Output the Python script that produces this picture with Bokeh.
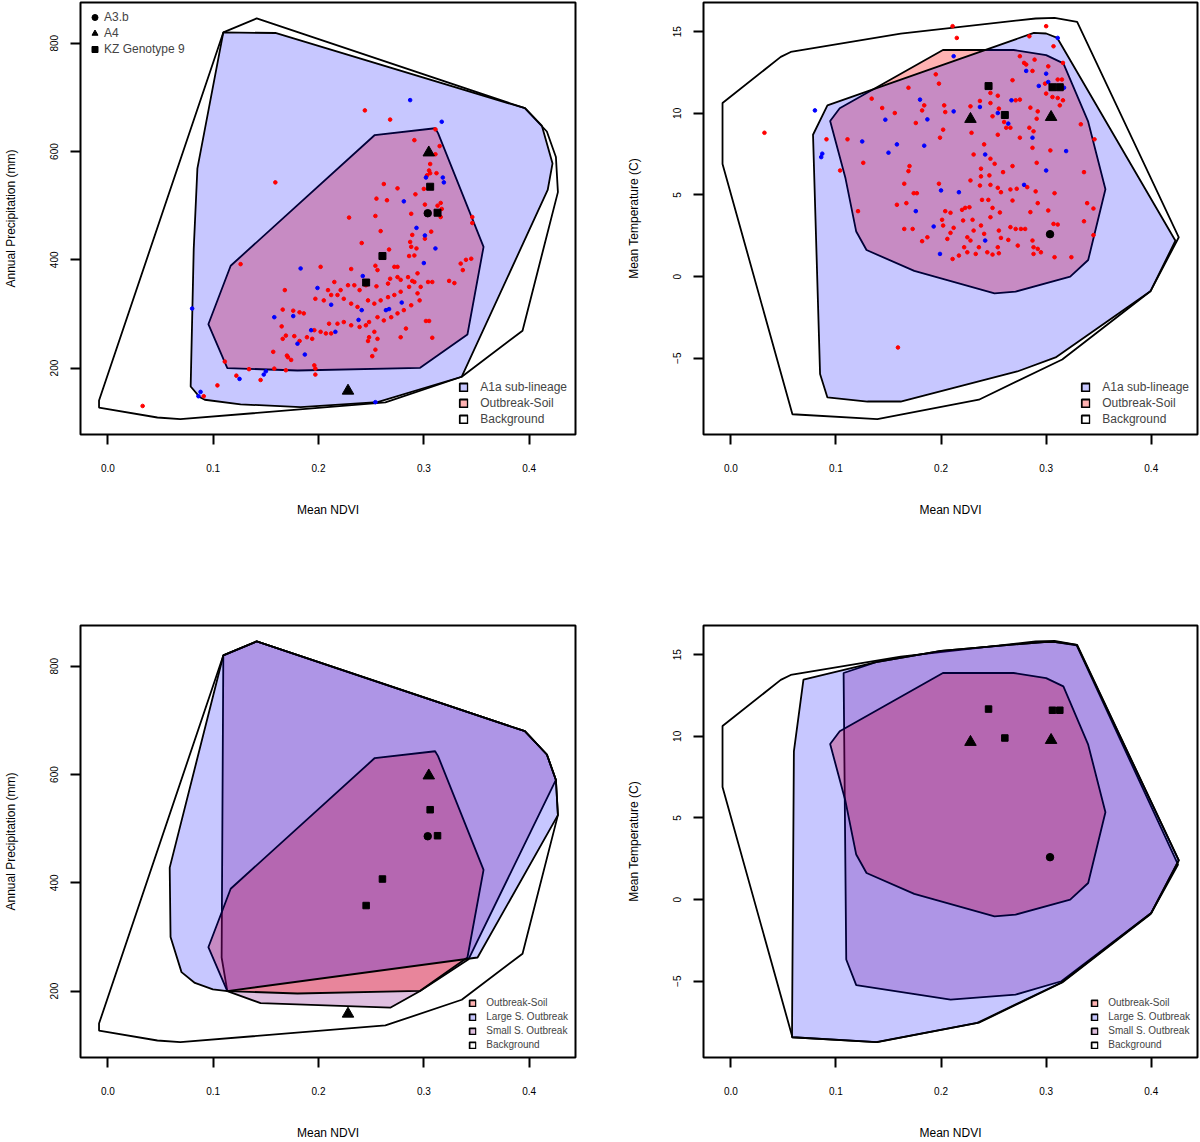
from bokeh.plotting import figure
from bokeh.models import Range1d, FixedTicker, NumeralTickFormatter, Legend, LegendItem
from bokeh.layouts import column, row
from bokeh.embed import file_html
from bokeh.resources import INLINE

FONT = "Liberation Sans"

# ---------------- axes ----------------
NDVI_TICKS = [0.0, 0.1, 0.2, 0.3, 0.4]
PRECIP_TICKS = [200, 400, 600, 800]
TEMP_TICKS = [-5, 0, 5, 10, 15]
NDVI_RANGE = (-0.026, 0.444)
PRECIP_RANGE = (77.3, 875.3)
TEMP_RANGE = (-9.67, 16.79)

# ---------------- hull vertices: precipitation ----------------
BG_P_NDVI = [-0.0084, -0.0084, 0.047, 0.0688, 0.2635, 0.336, 0.3937, 0.4273, 0.4254, 0.4168, 0.3959, 0.1413, 0.1096]
BG_P_MM = [140, 127, 108.7, 105.6, 136.5, 184, 269, 525, 590, 637, 680, 846, 820]

A1A_P_NDVI = [0.1096, 0.159, 0.3961, 0.412, 0.4222, 0.4176, 0.336, 0.256, 0.183, 0.126, 0.092, 0.0874, 0.0786, 0.0815, 0.085]
A1A_P_MM = [820, 819, 680, 648, 578, 529, 184, 137, 128, 133, 141.5, 146, 166, 420, 569]

SOIL_P_NDVI = [0.0954, 0.1166, 0.2534, 0.3107, 0.3135, 0.3567, 0.3414, 0.2965, 0.18, 0.1134]
SOIL_P_MM = [281, 389, 630.5, 643, 634, 424, 262, 200.5, 195.5, 200]

LARGE_P_NDVI = [0.1096, 0.1413, 0.3959, 0.4168, 0.4254, 0.4273, 0.351, 0.1134, 0.0997, 0.0826, 0.0699, 0.0595, 0.0587]
LARGE_P_MM = [820, 846, 680, 637, 590, 525, 262, 200, 203, 215, 235, 300, 428]

SMALL_P_NDVI = [0.1096, 0.1413, 0.3959, 0.4168, 0.4254, 0.3425, 0.2965, 0.2685, 0.145, 0.1134, 0.108]
SMALL_P_MM = [820, 846, 680, 637, 590, 259, 200, 169.5, 177.6, 200, 262]

# ---------------- hull vertices: temperature ----------------
BG_T_NDVI = [-0.0079, 0.0475, 0.057, 0.1616, 0.29, 0.308, 0.3295, 0.4262, 0.3992, 0.3153, 0.236, 0.1394, 0.0586, -0.0079]
BG_T_C = [10.63, 13.46, 13.76, 14.89, 15.81, 15.85, 15.6, 2.41, -0.9, -5.08, -7.54, -8.73, -8.43, 6.9]

A1A_T_NDVI = [0.0919, 0.2883, 0.300, 0.3106, 0.423, 0.3992, 0.309, 0.2725, 0.1616, 0.13, 0.0919, 0.0849, 0.0782]
A1A_T_C = [10.49, 14.93, 14.89, 14.62, 2.2, -0.9, -4.95, -5.81, -7.65, -7.65, -7.4, -5.97, 8.69]

SOIL_T_NDVI = [0.0945, 0.1036, 0.2018, 0.269, 0.3, 0.3164, 0.34, 0.3564, 0.34, 0.3229, 0.2709, 0.2509, 0.1745, 0.1291, 0.1193, 0.1091]
SOIL_T_C = [9.53, 10.31, 13.88, 13.88, 13.57, 13.06, 9.49, 5.35, 1.02, 0.0, -0.92, -1.02, 0.35, 1.63, 2.76, 6.02]

LARGE_T_NDVI = [0.0691, 0.1382, 0.2, 0.298, 0.309, 0.3291, 0.4262, 0.4, 0.3145, 0.2345, 0.1382, 0.0582, 0.06]
LARGE_T_C = [13.47, 14.55, 15.24, 15.78, 15.78, 15.6, 2.41, -0.82, -5.08, -7.55, -8.73, -8.43, 9.08]

SMALL_T_NDVI = [0.1073, 0.1382, 0.2, 0.298, 0.309, 0.3291, 0.4255, 0.4, 0.3145, 0.2709, 0.2091, 0.1193, 0.1098]
SMALL_T_C = [13.88, 14.55, 15.24, 15.78, 15.78, 15.57, 2.14, -0.82, -5.0, -5.82, -6.12, -5.24, -3.67]

# ---------------- genotype sites ----------------
A3B_NDVI = [0.3037]
A3B_MM = [486]
A3B_C = [2.6]
A4_NDVI = [0.228, 0.3047]
A4_MM = [158, 598]
A4_C = [9.65, 9.77]
KZ_NDVI = [0.2452, 0.2607, 0.306, 0.313]
KZ_MM = [358, 407, 535, 487]
KZ_C = [11.67, 9.9, 11.6, 11.6]

# ---------------- sample points: precipitation panel ----------------
RED_P_NDVI = [0.244, 0.268, 0.311, 0.291, 0.315, 0.311, 0.306, 0.305, 0.312, 0.303, 0.306, 0.262, 0.275, 0.300,
              0.292, 0.255, 0.265, 0.301, 0.316, 0.313, 0.317, 0.288, 0.254, 0.229, 0.316, 0.259, 0.307, 0.289,
              0.301, 0.346, 0.346, 0.241, 0.287, 0.288, 0.293, 0.267, 0.159,
              0.286, 0.291, 0.272, 0.275, 0.231, 0.254, 0.256, 0.268, 0.275, 0.278, 0.285, 0.289, 0.294, 0.266,
              0.255, 0.245, 0.239, 0.234, 0.228, 0.221, 0.215, 0.209, 0.202, 0.197, 0.205, 0.212, 0.218, 0.224,
              0.231, 0.237, 0.247, 0.253, 0.259, 0.266, 0.272, 0.278, 0.286, 0.291, 0.297, 0.304, 0.308, 0.324,
              0.329, 0.335, 0.340, 0.345, 0.337, 0.294, 0.296, 0.288, 0.281, 0.275, 0.269, 0.262, 0.256, 0.248,
              0.245, 0.239, 0.231, 0.224, 0.218, 0.210, 0.202, 0.196, 0.189, 0.186, 0.253, 0.248, 0.256, 0.283,
              0.278, 0.308, 0.302, 0.305, 0.247, 0.254, 0.251, 0.196, 0.197, 0.197, 0.207, 0.194, 0.212,
              0.126, 0.168, 0.166, 0.176, 0.182, 0.165, 0.169, 0.166, 0.177, 0.182, 0.157, 0.170, 0.171, 0.174,
              0.111, 0.134, 0.158, 0.169, 0.145, 0.122, 0.104, 0.091, 0.033]
RED_P_MM = [676, 659, 641, 621, 610, 595, 577, 565, 560, 556, 560, 540, 532, 531,
            521, 513, 510, 502, 505, 500, 494, 485, 481, 478, 479, 453, 452, 446,
            439, 479, 468, 431, 433, 424, 421, 419, 543,
            407, 408, 387, 387, 383, 389, 381, 365, 368, 363, 368, 361, 375, 356,
            351, 353, 344, 353, 353, 344, 359, 344, 387, 328, 325, 335, 335, 328,
            319, 313, 325, 319, 325, 331, 335, 341, 350, 359, 350, 359, 359, 361,
            357, 393, 400, 402, 381, 338, 325, 316, 307, 301, 294, 288, 294, 285,
            279, 276, 279, 285, 282, 282, 267, 270, 257, 301, 267, 257, 254, 273,
            257, 256, 287, 287, 250, 234, 222, 205, 199, 188, 264, 254, 264,
            392, 344, 308, 306, 303, 277, 260, 254, 259, 250, 230, 223, 220, 215,
            212, 198, 199, 196, 178, 186, 168, 148, 130]

BLUE_P_NDVI = [0.287, 0.317, 0.302, 0.318, 0.319, 0.281, 0.293, 0.301, 0.311,
               0.080, 0.158, 0.176, 0.180, 0.125, 0.148, 0.150, 0.088, 0.086,
               0.199, 0.242, 0.212, 0.216, 0.193, 0.187, 0.238, 0.241, 0.264, 0.267, 0.279, 0.300, 0.254, 0.183]
BLUE_P_MM = [695, 655, 552, 552, 543, 508, 459, 445, 421,
             310, 294, 296, 245, 180, 188, 194, 156, 148,
             348, 370, 317, 267, 270, 225, 289, 307, 307, 309, 321, 394, 137, 384]

# ---------------- sample points: temperature panel ----------------
RED_T_NDVI = [0.032, 0.091, 0.111, 0.134, 0.144, 0.156, 0.104, 0.126, 0.121, 0.158, 0.159,
              0.211, 0.215, 0.300, 0.284, 0.307, 0.316, 0.275, 0.279, 0.281, 0.289, 0.287, 0.302, 0.268, 0.195,
              0.198, 0.169, 0.184, 0.182, 0.203, 0.204, 0.176, 0.228, 0.237, 0.247, 0.254, 0.247, 0.249, 0.255,
              0.271, 0.275, 0.285, 0.292, 0.291, 0.260, 0.262, 0.266, 0.284, 0.288, 0.254, 0.275, 0.229, 0.202,
              0.199, 0.241, 0.231, 0.287, 0.304, 0.333, 0.346, 0.291, 0.247, 0.251, 0.238, 0.246, 0.268, 0.259,
              0.170, 0.169, 0.165, 0.198, 0.228, 0.238, 0.237, 0.247, 0.254, 0.257, 0.266, 0.272, 0.282, 0.290,
              0.308, 0.336, 0.167, 0.174, 0.177, 0.204, 0.209, 0.220, 0.223, 0.227, 0.239, 0.245, 0.249, 0.256,
              0.268, 0.285, 0.292, 0.302, 0.307, 0.311, 0.336, 0.345, 0.339, 0.345, 0.165, 0.173, 0.201, 0.202,
              0.212, 0.221, 0.230, 0.238, 0.247, 0.255, 0.266, 0.271, 0.276, 0.280, 0.287, 0.292, 0.182, 0.187,
              0.206, 0.209, 0.225, 0.228, 0.231, 0.241, 0.257, 0.264, 0.273, 0.288, 0.254, 0.236, 0.222, 0.300,
              0.306, 0.311, 0.316, 0.313, 0.311, 0.315, 0.299,
              0.211, 0.217, 0.225, 0.233, 0.244, 0.249, 0.255, 0.288, 0.295, 0.308, 0.324]
RED_T_C = [8.81, 8.41, 8.41, 10.9, 10.33, 10.02, 6.5, 6.97, 4.01, 4.4, -4.34,
           15.34, 14.62, 15.34, 14.72, 14.11, 13.09, 13.5, 13.09, 12.99, 13.29, 12.6, 12.88, 12.03, 12.39,
           11.82, 11.57, 10.49, 10.18, 10.49, 10.08, 9.41, 10.43, 10.76, 11.25, 11.08, 10.63, 9.82, 10.29,
           10.8, 10.84, 10.35, 10.12, 9.67, 9.47, 9.12, 9.12, 9.12, 8.9, 8.69, 8.51, 8.81, 9.0,
           8.51, 8.1, 7.48, 7.89, 7.73, 9.33, 8.41, 6.97, 7.22, 6.91, 6.61, 6.2, 6.77, 6.4,
           6.77, 6.46, 5.69, 5.69, 5.89, 6.14, 5.58, 5.62, 5.44, 5.17, 5.34, 5.38, 5.48, 5.22,
           5.11, 6.4, 4.5, 5.11, 5.11, 4.01, 3.91, 4.09, 4.21, 4.25, 4.7, 4.7, 4.21, 3.93,
           4.66, 3.95, 4.5, 4.05, 3.23, 3.19, 3.39, 4.17, 4.5, 2.54, 2.92, 2.92, 3.48, 3.13,
           2.99, 3.44, 3.48, 3.13, 3.64, 2.82, 3.03, 2.92, 2.92, 2.92, 2.21, 1.7, 2.17, 2.41,
           2.31, 2.68, 2.41, 2.21, 2.82, 2.62, 2.37, 2.25, 1.9, 1.8, 1.8, 1.8, 1.8, 11.21,
           11.0, 10.94, 10.8, 10.49, 12.07, 12.07, 11.82,
           1.08, 1.29, 1.49, 1.39, 1.49, 1.35, 1.43, 1.39, 1.49, 1.19, 1.19]

BLUE_T_NDVI = [0.080, 0.086, 0.087, 0.125, 0.147, 0.158, 0.150,
               0.311, 0.212, 0.281, 0.300, 0.302, 0.293, 0.317, 0.180, 0.237, 0.212, 0.187, 0.254, 0.264,
               0.267, 0.287, 0.184, 0.242, 0.319, 0.300, 0.279, 0.200, 0.217, 0.176, 0.193, 0.242, 0.199]
BLUE_T_C = [10.18, 7.32, 7.53, 8.28, 9.61, 8.1, 7.59,
            14.62, 13.5, 12.6, 12.43, 11.92, 11.68, 11.57, 10.84, 10.39, 10.12, 9.63, 10.02, 9.37,
            10.8, 8.51, 8.02, 7.48, 7.69, 6.5, 5.62, 5.28, 5.17, 4.01, 3.07, 2.21, 1.39]

# ---------------- colours ----------------
BLUE = "#0000FF"
RED = "#FF0000"
PURPLE = "#800080"


def make_fig(ylabel, yrange, yticks, frame_w, left_border, right_border, top_border, bottom_border):
    p = figure(frame_width=frame_w, frame_height=432,
               x_range=Range1d(*NDVI_RANGE), y_range=Range1d(*yrange),
               output_backend="svg", toolbar_location=None,
               min_border_left=left_border, min_border_right=right_border,
               min_border_top=top_border, min_border_bottom=bottom_border,
               background_fill_color="white", border_fill_color="white")
    p.grid.visible = False
    p.outline_line_color = "black"
    p.outline_line_width = 2
    for ax in (p.xaxis[0], p.yaxis[0]):
        ax.axis_line_color = None
        ax.major_tick_out = 10
        ax.major_tick_in = 0
        ax.minor_tick_out = 0
        ax.minor_tick_in = 0
        ax.major_tick_line_width = 2
        ax.major_label_text_font = FONT
        ax.major_label_text_font_size = "10px"
        ax.major_label_text_color = "black"
        ax.axis_label_text_font = FONT
        ax.axis_label_text_font_size = "12px"
        ax.axis_label_text_font_style = "normal"
        ax.axis_label_text_color = "black"
    p.xaxis.ticker = FixedTicker(ticks=NDVI_TICKS)
    p.xaxis.formatter = NumeralTickFormatter(format="0.0")
    p.xaxis.axis_label = "Mean NDVI"
    p.xaxis.major_label_standoff = 19
    p.xaxis.axis_label_standoff = 28
    p.yaxis.ticker = FixedTicker(ticks=yticks)
    p.yaxis.major_label_orientation = "vertical"
    p.yaxis.major_label_standoff = 12
    p.yaxis.axis_label = ylabel
    p.yaxis.axis_label_standoff = 30
    return p


def hull(p, xs, ys, color, alpha):
    return p.patch(xs, ys, fill_color=color, fill_alpha=alpha,
                   line_color="black", line_width=1.8)


def sites(p, ys_a3b, ys_a4, ys_kz, big):
    c = p.scatter(A3B_NDVI, ys_a3b, marker="circle", size=7.5, color="black")
    t = p.scatter(A4_NDVI, ys_a4, marker="triangle", size=11.5, color="black")
    s = p.scatter(KZ_NDVI, ys_kz, marker="square", size=7 if big else 6.5, color="black")
    return c, t, s


def hull_legend(p, items, font_size, gw, gh, spacing, standoff, margin):
    leg = Legend(items=items, location="bottom_right",
                 border_line_color=None, background_fill_alpha=0,
                 label_text_font=FONT, label_text_font_size=font_size,
                 glyph_width=gw, glyph_height=gh, label_height=gh,
                 spacing=spacing, label_standoff=standoff, padding=0, margin=margin)
    p.add_layout(leg)


# ---------------- top-left: precipitation, A1a ----------------
p1 = make_fig("Annual Precipitation (mm)", PRECIP_RANGE, PRECIP_TICKS, 495, 80, 28, 2, 189)
bg1 = hull(p1, BG_P_NDVI, BG_P_MM, "white", 0.0)
so1 = hull(p1, SOIL_P_NDVI, SOIL_P_MM, RED, 0.3)
a11 = hull(p1, A1A_P_NDVI, A1A_P_MM, BLUE, 0.22)
p1.scatter(RED_P_NDVI, RED_P_MM, marker="circle", size=3.6, color=RED)
p1.scatter(BLUE_P_NDVI, BLUE_P_MM, marker="circle", size=3.6, color=BLUE)
c1, t1, s1 = sites(p1, A3B_MM, A4_MM, KZ_MM, True)
hull_legend(p1, [LegendItem(label="A1a sub-lineage", renderers=[a11]),
                 LegendItem(label="Outbreak-Soil", renderers=[so1]),
                 LegendItem(label="Background", renderers=[bg1])],
            "12px", 10, 10, 2, 12, 8)
mleg = Legend(items=[LegendItem(label="A3.b", renderers=[c1]),
                     LegendItem(label="A4", renderers=[t1]),
                     LegendItem(label="KZ Genotype 9", renderers=[s1])],
              location="top_left", border_line_color=None, background_fill_alpha=0,
              label_text_font=FONT, label_text_font_size="12px",
              glyph_width=15, glyph_height=16, label_height=14, spacing=0,
              label_standoff=2, padding=0, margin=7)
p1.add_layout(mleg)

# ---------------- top-right: temperature, A1a ----------------
p2 = make_fig("Mean Temperature (C)", TEMP_RANGE, TEMP_TICKS, 494, 100, 2, 2, 189)
bg2 = hull(p2, BG_T_NDVI, BG_T_C, "white", 0.0)
so2 = hull(p2, SOIL_T_NDVI, SOIL_T_C, RED, 0.3)
a12 = hull(p2, A1A_T_NDVI, A1A_T_C, BLUE, 0.22)
p2.scatter(RED_T_NDVI, RED_T_C, marker="circle", size=3.6, color=RED)
p2.scatter(BLUE_T_NDVI, BLUE_T_C, marker="circle", size=3.6, color=BLUE)
sites(p2, A3B_C, A4_C, KZ_C, True)
hull_legend(p2, [LegendItem(label="A1a sub-lineage", renderers=[a12]),
                 LegendItem(label="Outbreak-Soil", renderers=[so2]),
                 LegendItem(label="Background", renderers=[bg2])],
            "12px", 10, 10, 2, 12, 8)

# ---------------- bottom-left: precipitation, outbreak sizes ----------------
p3 = make_fig("Annual Precipitation (mm)", PRECIP_RANGE, PRECIP_TICKS, 495, 80, 28, 2, 84)
bg3 = hull(p3, BG_P_NDVI, BG_P_MM, "white", 0.0)
sm3 = hull(p3, SMALL_P_NDVI, SMALL_P_MM, PURPLE, 0.25)
so3 = hull(p3, SOIL_P_NDVI, SOIL_P_MM, RED, 0.3)
lg3 = hull(p3, LARGE_P_NDVI, LARGE_P_MM, BLUE, 0.22)
sites(p3, A3B_MM, A4_MM, KZ_MM, False)
hull_legend(p3, [LegendItem(label="Outbreak-Soil", renderers=[so3]),
                 LegendItem(label="Large S. Outbreak", renderers=[lg3]),
                 LegendItem(label="Small S. Outbreak", renderers=[sm3]),
                 LegendItem(label="Background", renderers=[bg3])],
            "10px", 8, 8, 3, 10, 7)

# ---------------- bottom-right: temperature, outbreak sizes ----------------
p4 = make_fig("Mean Temperature (C)", TEMP_RANGE, TEMP_TICKS, 494, 100, 2, 2, 84)
bg4 = hull(p4, BG_T_NDVI, BG_T_C, "white", 0.0)
sm4 = hull(p4, SMALL_T_NDVI, SMALL_T_C, PURPLE, 0.25)
so4 = hull(p4, SOIL_T_NDVI, SOIL_T_C, RED, 0.3)
lg4 = hull(p4, LARGE_T_NDVI, LARGE_T_C, BLUE, 0.22)
sites(p4, A3B_C, A4_C, KZ_C, False)
hull_legend(p4, [LegendItem(label="Outbreak-Soil", renderers=[so4]),
                 LegendItem(label="Large S. Outbreak", renderers=[lg4]),
                 LegendItem(label="Small S. Outbreak", renderers=[sm4]),
                 LegendItem(label="Background", renderers=[bg4])],
            "10px", 8, 8, 3, 10, 7)

layout = column(row(p1, p2), row(p3, p4))
open("out.html", "w").write(file_html(layout, INLINE))
